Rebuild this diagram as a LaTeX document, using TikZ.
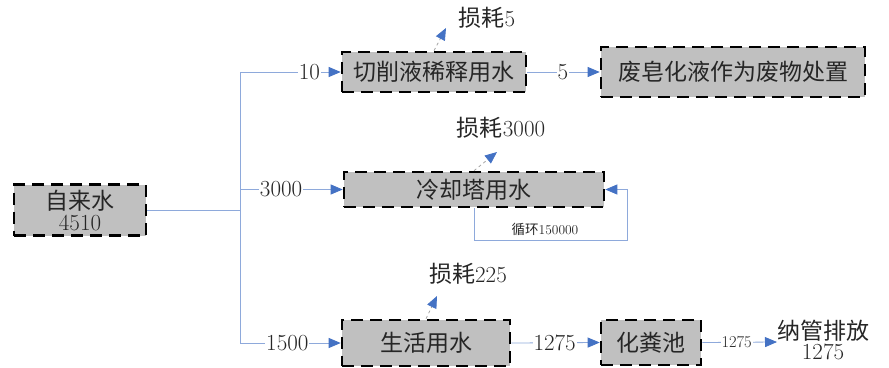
\documentclass[tikz,border=0pt]{standalone}
\usepackage{fontspec}
\newfontfamily\cjk{Noto Sans CJK SC}
\usetikzlibrary{arrows.meta}
\definecolor{flowc}{HTML}{8EA9DB}
\definecolor{tipc}{HTML}{4472C4}
\definecolor{boxc}{HTML}{C0C0C0}
\definecolor{txtc}{HTML}{262626}
\newcommand{\zh}[1]{{\cjk #1}}
\tikzset{
  procbox/.style={draw=black, fill=boxc, line width=2.6pt, dash pattern=on 12pt off 7pt,
    inner sep=0pt, font=\fontsize{23}{25}\selectfont, text=txtc},
  flow/.style={draw=flowc, line width=0.8pt},
  flowarr/.style={flow, -{Triangle[length=12pt,width=10pt,color=tipc]}},
  lossarr/.style={draw=gray!70, line width=0.8pt, dashed, -{Triangle[length=12pt,width=10pt,color=tipc]}},
  elabel/.style={fill=white, inner sep=1pt, font=\fontsize{23}{25}\selectfont, text=txtc},
  plain/.style={inner sep=0pt, font=\fontsize{23}{26}\selectfont, text=txtc, align=center}
}
\begin{document}
\begin{tikzpicture}[x=1pt,y=-1pt]
\useasboundingbox (0,0) rectangle (889,367);
% boxes
\node[procbox, minimum width=132pt, minimum height=51pt, align=center] (src) at (80,210)
  {\zh{自来水}\\[-4pt]4510};
\node[procbox, minimum width=184pt, minimum height=40pt] (cut) at (434,72) {\zh{切削液稀释用水}};
\node[procbox, minimum width=264pt, minimum height=50pt] (waste) at (733,72) {\zh{废皂化液作为废物处置}};
\node[procbox, minimum width=260pt, minimum height=35pt] (cool) at (474,189.5) {\zh{冷却塔用水}};
\node[procbox, minimum width=168pt, minimum height=46pt] (life) at (426,343) {\zh{生活用水}};
\node[procbox, minimum width=100pt, minimum height=45pt] (septic) at (651,342.5) {\zh{化粪池}};
\node[plain] (out) at (823,340) {\zh{纳管排放}\\[-6pt]1275};
% junctions
\coordinate (jt) at (240,72);
\coordinate (jm) at (240,210);
\coordinate (jc) at (240,189.5);
\coordinate (jb) at (240,343);
\coordinate (rc) at (627,240);
\coordinate (outin) at (777,342);
% trunk
\draw[flow] (src.east) -- (jm);
\draw[flow] (jt) -- (jb);
% branches
\draw[flowarr] (jt) -- node[elabel, pos=0.69] {10} (cut.west);
\draw[flowarr] (jc) -- node[elabel, pos=0.40] {3000} (cool.west);
\draw[flowarr] (jb) -- node[elabel, pos=0.47] {1500} (life.west);
\draw[flowarr] (cut.east) -- node[elabel, pos=0.49] {5} (waste.west);
\draw[flowarr] (life.east) -- node[elabel, pos=0.49] {1275} (septic.west);
\draw[flowarr] (septic.east) -- node[elabel, pos=0.46, font=\fontsize{16.5}{18}\selectfont] {1275} (outin);
% recycle
\draw[flowarr] (cool.south) |- (rc) |- (cool.east);
\node[plain, font=\fontsize{13.5}{15}\selectfont] (rcl) at (545,229) {\zh{循环}150000};
% losses
\coordinate (l1) at (446,28);
\coordinate (l2) at (497,152);
\coordinate (l3) at (437,296);
\draw[lossarr] (cut.north) -- (l1);
\draw[lossarr] (cool.north) -- (l2);
\draw[lossarr] (life.north) -- (l3);
\node[plain] (t1) at (487,18) {\zh{损耗}5};
\node[plain] (t2) at (501,128) {\zh{损耗}3000};
\node[plain] (t3) at (468,274) {\zh{损耗}225};
\end{tikzpicture}
\end{document}
